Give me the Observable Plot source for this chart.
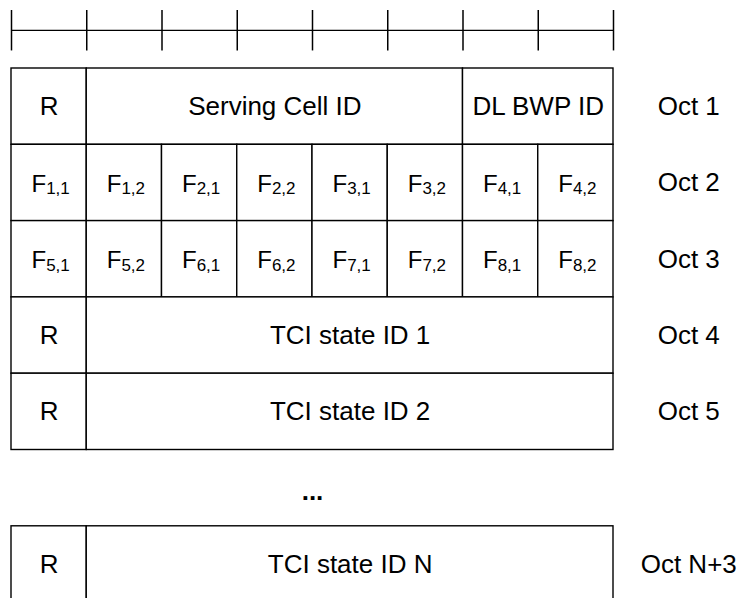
<!DOCTYPE html>
<html>
<head>
<meta charset="utf-8">
<script src="https://cdn.jsdelivr.net/npm/d3@7"></script>
<script src="https://cdn.jsdelivr.net/npm/@observablehq/plot@0.6"></script>
<style>
  html, body { margin: 0; padding: 0; background: #ffffff; }
</style>
</head>
<body>
<div id="chart"></div>
<script>
// ---- data ----
const bitTicks = [0, 1, 2, 3, 4, 5, 6, 7, 8];

const oct1Labels = ["R", "Serving Cell ID", "DL BWP ID"];
const oct1Widths = [1, 5, 2];

const oct2Subs = ["1,1", "1,2", "2,1", "2,2", "3,1", "3,2", "4,1", "4,2"];
const oct3Subs = ["5,1", "5,2", "6,1", "6,2", "7,1", "7,2", "8,1", "8,2"];

const tciLabels = ["TCI state ID 1", "TCI state ID 2", "TCI state ID N"];
const tciRows = [3, 4, 6];

const octLabels = ["Oct 1", "Oct 2", "Oct 3", "Oct 4", "Oct 5", "Oct N+3"];
const octRows = [0, 1, 2, 3, 4, 6];

const ellipsis = ["..."];
const ellipsisRow = 5.55;

// ---- build tables ----
const cells = [];
let pos = 0;
oct1Labels.forEach((l, i) => {
  cells.push({row: 0, x1: pos, x2: pos + oct1Widths[i], label: l});
  pos += oct1Widths[i];
});
const subCells = [];
[[1, oct2Subs], [2, oct3Subs]].forEach(([row, subs]) => {
  subs.forEach((s, i) => {
    cells.push({row, x1: i, x2: i + 1, label: null});
    subCells.push({row, x: i + 0.5, sub: s});
  });
});
tciLabels.forEach((l, i) => {
  cells.push({row: tciRows[i], x1: 0, x2: 1, label: "R"});
  cells.push({row: tciRows[i], x1: 1, x2: 8, label: l});
});
const labeled = cells.filter(d => d.label);
const octs = octLabels.map((l, i) => ({label: l, row: octRows[i]}));

const font = 26;

const chart = Plot.plot({
  width: 740,
  height: 598,
  margin: 0,
  style: {fontFamily: "'Liberation Sans', Arial, sans-serif", background: "#ffffff", color: "#000"},
  x: {domain: [0, 8], range: [11, 613], axis: null},
  y: {domain: [0, 1], range: [68, 144.3], axis: null},
  marks: [
    // top ruler
    Plot.ruleY([-0.5], {x1: 0, x2: 8, stroke: "#000", strokeWidth: 1.2}),
    Plot.ruleX(bitTicks, {x: d => d, y1: -0.76, y2: -0.23, stroke: "#000", strokeWidth: 1.5}),
    // field boxes
    Plot.rect(cells, {x1: "x1", x2: "x2", y1: "row", y2: d => d.row + 1,
      fill: "#fff", stroke: "#000", strokeWidth: 1.4}),
    // field labels
    Plot.text(labeled, {x: d => (d.x1 + d.x2) / 2, y: d => d.row + 0.5, text: "label",
      fontSize: font, fill: "#000"}),
    // F with subscripts
    Plot.text(subCells, {x: "x", y: d => d.row + 0.5, text: () => "F",
      textAnchor: "end", dx: -3, dy: 1, fontSize: 24, fill: "#000"}),
    Plot.text(subCells, {x: "x", y: d => d.row + 0.5, text: "sub",
      textAnchor: "start", dx: -3, dy: 6, fontSize: 17, fill: "#000"}),
    // octet labels
    Plot.text(octs, {x: 9, y: d => d.row + 0.5, text: "label", fontSize: font, fill: "#000"}),
    // ellipsis
    Plot.text(ellipsis, {x: 4, y: ellipsisRow, text: d => d, fontSize: font, fontWeight: "bold", fill: "#000"})
  ]
});
document.getElementById("chart").appendChild(chart);
</script>
</body>
</html>
